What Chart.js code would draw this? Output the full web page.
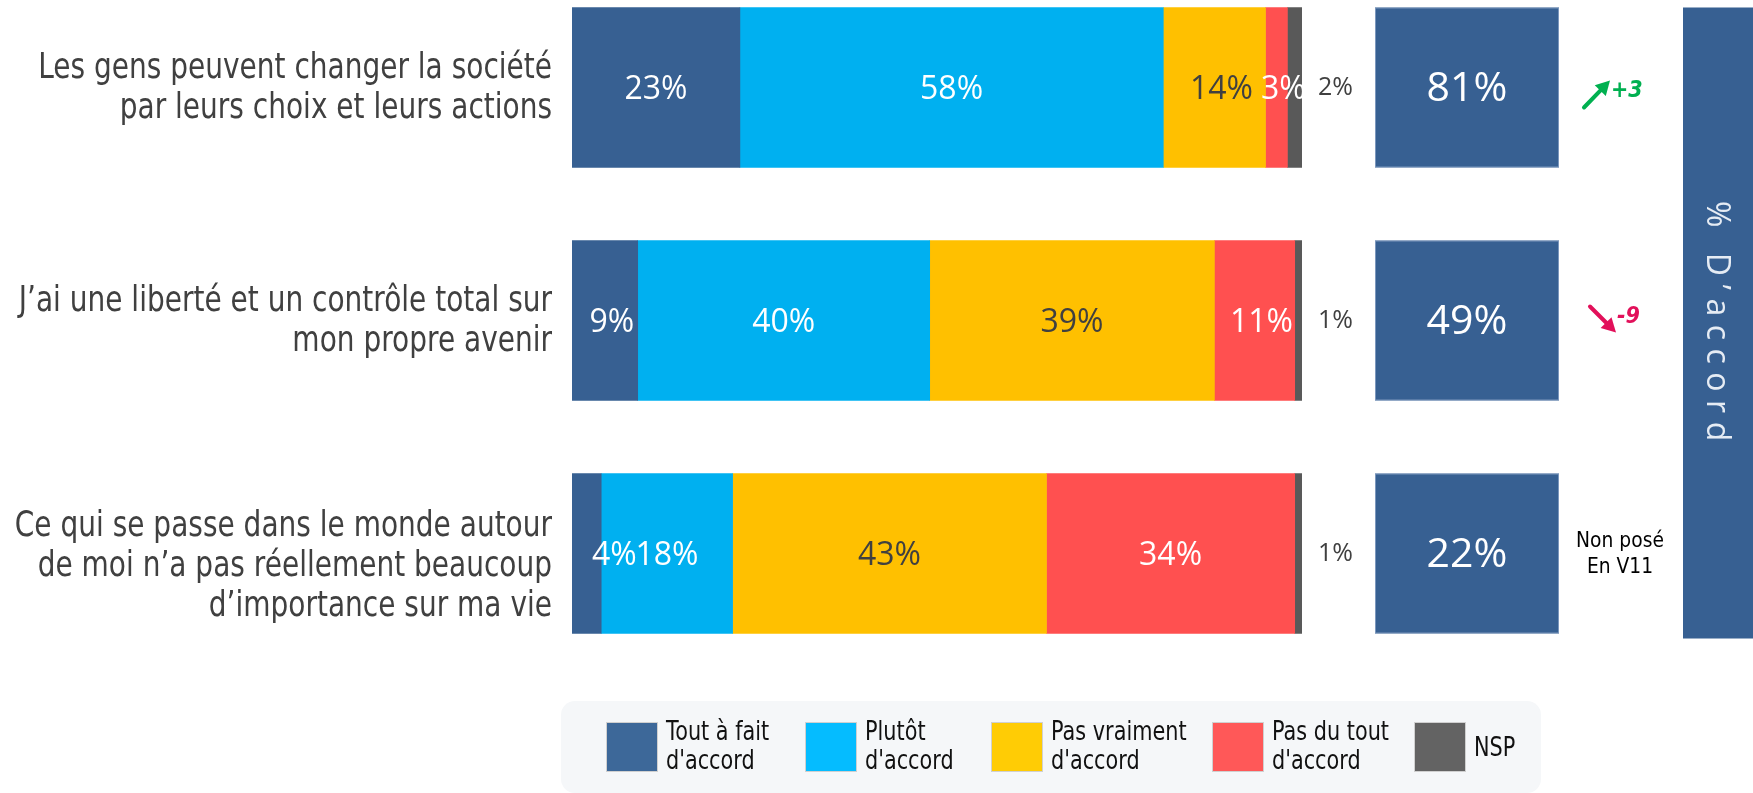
<!DOCTYPE html>
<html>
<head>
<meta charset="utf-8">
<script src="https://cdn.jsdelivr.net/npm/chart.js@4.4.0/dist/chart.umd.min.js"></script>
<style>
    html, body { margin: 0; padding: 0; background: #fff; }
    #wrap { position: relative; width: 1753px; height: 793px; }
</style>
</head>
<body>
<div id="wrap"><canvas id="chart" width="1753" height="793"></canvas></div>
<script>
// questions (one entry per row, already split in lines)
const questions = [
    ["Les gens peuvent changer la société", "par leurs choix et leurs actions"],
    ["J’ai une liberté et un contrôle total sur", "mon propre avenir"],
    ["Ce qui se passe dans le monde autour", "de moi n’a pas réellement beaucoup", "d’importance sur ma vie"]
];
const seriesNames = [["Tout à fait", "d'accord"], ["Plutôt", "d'accord"], ["Pas vraiment", "d'accord"], ["Pas du tout", "d'accord"], ["NSP"]];

const toutAFait = [23, 9, 4];
const plutot = [58, 40, 18];
const pasVraiment = [14, 39, 43];
const pasDuTout = [3, 11, 34];
const nsp = [2, 1, 1];

const totalAccord = [81, 49, 22];
const evolution = ["+3", "-9", null];
const nonPose = ["Non posé", "En V11"];

const colors = ["#376092", "#00B0F0", "#FFC000", "#FF5050", "#595959"];
const legendColors = ["#3D6899", "#05BCFF", "#FFCC05", "#FF5858", "#636363"];
const labelColors = ["#ffffff", "#ffffff", "#404040", "#ffffff"];

const TEXT_FONT = "'DejaVu Sans', Verdana, sans-serif";
const NUM_FONT = "'Open Sans', 'Noto Sans', sans-serif";
const SQUEEZE = 0.8;

function rowPoints(arr) {
    return arr.map((v, i) => ({ x: v, y: i }));
}

// draw text, squeezed horizontally like the original slide
function drawText(ctx, s, x, y, font, color, align, sx) {
    ctx.save();
    ctx.font = font;
    ctx.fillStyle = color;
    ctx.textAlign = align;
    ctx.textBaseline = "middle";
    ctx.translate(x, y);
    ctx.scale(sx || 1, 1);
    ctx.fillText(s, 0, 0);
    ctx.restore();
}

function arrow(ctx, x1, y1, x2, y2, color) {
    const a = Math.atan2(y2 - y1, x2 - x1);
    ctx.save();
    ctx.strokeStyle = color;
    ctx.fillStyle = color;
    ctx.lineWidth = 4;
    ctx.lineCap = "round";
    ctx.beginPath();
    ctx.moveTo(x1, y1);
    ctx.lineTo(x2 - 6 * Math.cos(a), y2 - 6 * Math.sin(a));
    ctx.stroke();
    ctx.beginPath();
    ctx.moveTo(x2, y2);
    ctx.lineTo(x2 - 16 * Math.cos(a - 0.5), y2 - 16 * Math.sin(a - 0.5));
    ctx.lineTo(x2 - 16 * Math.cos(a + 0.5), y2 - 16 * Math.sin(a + 0.5));
    ctx.closePath();
    ctx.fill();
    ctx.restore();
}

const decorPlugin = {
    id: "decor",
    afterDatasetsDraw(chart) {
        const ctx = chart.ctx;
        const area = chart.chartArea;
        const ys = chart.scales.y;
        const first = chart.getDatasetMeta(0).data;

        // question labels
        questions.forEach((lines, i) => {
            const cy = ys.getPixelForValue(i) + (lines.length > 2 ? 13 : 1);
            const lh = 40;
            const top = cy - (lines.length - 1) * lh / 2;
            lines.forEach((l, k) => {
                drawText(ctx, l, area.left - 20, top + k * lh, "35px " + TEXT_FONT, "#404040", "right", SQUEEZE);
            });
        });

        // values inside the bars
        for (let d = 0; d < 4; d++) {
            const meta = chart.getDatasetMeta(d);
            meta.data.forEach((el, i) => {
                const p = el.getProps(["x", "base", "y"], true);
                const v = chart.data.datasets[d].data[i].x;
                const s = v + "%";
                ctx.font = "32px " + NUM_FONT;
                const tw = ctx.measureText(s).width;
                let x = (p.x + p.base) / 2 + (v < 15 ? 7 : 0);
                if (x - tw / 2 < area.left) x = area.left + 20 + tw / 2;
                drawText(ctx, s, x, p.y + 2, "32px " + NUM_FONT, labelColors[d], "center");
            });
        }

        // NSP outside the bars
        chart.getDatasetMeta(4).data.forEach((el, i) => {
            const p = el.getProps(["y"], true);
            drawText(ctx, nsp[i] + "%", area.right + 16, p.y, "25px " + NUM_FONT, "#404040", "left");
        });

        // total agreement boxes
        first.forEach((el, i) => {
            const p = el.getProps(["y", "height"], true);
            const bx = area.right + 73, bw = 184;
            ctx.fillStyle = "#376092";
            ctx.fillRect(bx, p.y - p.height / 2, bw, p.height);
            ctx.strokeStyle = "rgba(140,165,200,0.8)";
            ctx.lineWidth = 1;
            ctx.strokeRect(bx + 0.5, p.y - p.height / 2 + 0.5, bw - 1, p.height - 1);
            drawText(ctx, totalAccord[i] + "%", bx + bw / 2, p.y + 2, "41px " + NUM_FONT, "#ffffff", "center");

            const ex = area.right + 282;
            if (evolution[i] && evolution[i][0] === "+") {
                arrow(ctx, ex, p.y + 20, ex + 26, p.y - 7, "#00B050");
                drawText(ctx, evolution[i], ex + 27, p.y + 4, "italic bold 23px " + TEXT_FONT, "#00B050", "left", 0.9);
            } else if (evolution[i]) {
                arrow(ctx, ex + 6, p.y - 14, ex + 32, p.y + 12, "#E2105A");
                drawText(ctx, evolution[i], ex + 33, p.y - 3, "italic bold 23px " + TEXT_FONT, "#E2105A", "left", 0.9);
            } else {
                drawText(ctx, nonPose[0], ex + 36, p.y - 12, "22px " + TEXT_FONT, "#000000", "center", 0.85);
                drawText(ctx, nonPose[1], ex + 36, p.y + 14, "22px " + TEXT_FONT, "#000000", "center", 0.85);
            }
        });

        // "% D'accord" column
        const t0 = first[0].getProps(["y", "height"], true);
        const t2 = first[first.length - 1].getProps(["y", "height"], true);
        const colTop = t0.y - t0.height / 2;
        const colBottom = t2.y + t2.height / 2 + 5;
        ctx.fillStyle = "#376092";
        ctx.fillRect(1683, colTop, 70, colBottom - colTop);
        ctx.save();
        ctx.translate(1716, 201);
        ctx.rotate(Math.PI / 2);
        ctx.font = "32px " + NUM_FONT;
        ctx.letterSpacing = "8.5px";
        ctx.fillStyle = "#E6ECF4";
        ctx.textAlign = "left";
        ctx.textBaseline = "middle";
        ctx.fillText("% D’accord", 0, 0);
        ctx.restore();

        // legend
        ctx.fillStyle = "#F5F7F9";
        ctx.beginPath();
        ctx.roundRect(561, 701, 980, 92, 14);
        ctx.fill();
        const legendX = [606, 805, 991, 1212, 1414];
        seriesNames.forEach((lines, k) => {
            ctx.fillStyle = legendColors[k];
            ctx.fillRect(legendX[k], 722, 52, 50);
            ctx.strokeStyle = "#d0d0d0";
            ctx.strokeRect(legendX[k] + 0.5, 722.5, 51, 49);
            const tx = legendX[k] + 60;
            if (lines.length === 1) {
                drawText(ctx, lines[0], tx, 749, "26px " + TEXT_FONT, "#111111", "left", SQUEEZE);
            } else {
                drawText(ctx, lines[0], tx, 733, "26px " + TEXT_FONT, "#111111", "left", SQUEEZE);
                drawText(ctx, lines[1], tx, 762, "26px " + TEXT_FONT, "#111111", "left", SQUEEZE);
            }
        });
    }
};

const seriesData = [toutAFait, plutot, pasVraiment, pasDuTout, nsp];

new Chart(document.getElementById("chart"), {
    type: "bar",
    data: {
        datasets: seriesData.map((arr, k) => ({
            label: seriesNames[k].join(" "),
            data: rowPoints(arr),
            backgroundColor: colors[k],
            borderWidth: 0,
            barThickness: 160
        }))
    },
    options: {
        indexAxis: "y",
        responsive: false,
        animation: false,
        layout: { padding: { left: 572, right: 451, top: 0, bottom: 153 } },
        scales: {
            x: { stacked: true, min: 0, max: 100, display: false },
            y: { type: "linear", stacked: true, reverse: true, offset: false, min: -0.3755, max: 2.3712, display: false }
        },
        plugins: {
            legend: { display: false },
            tooltip: { enabled: false }
        }
    },
    plugins: [decorPlugin]
});
</script>
</body>
</html>
